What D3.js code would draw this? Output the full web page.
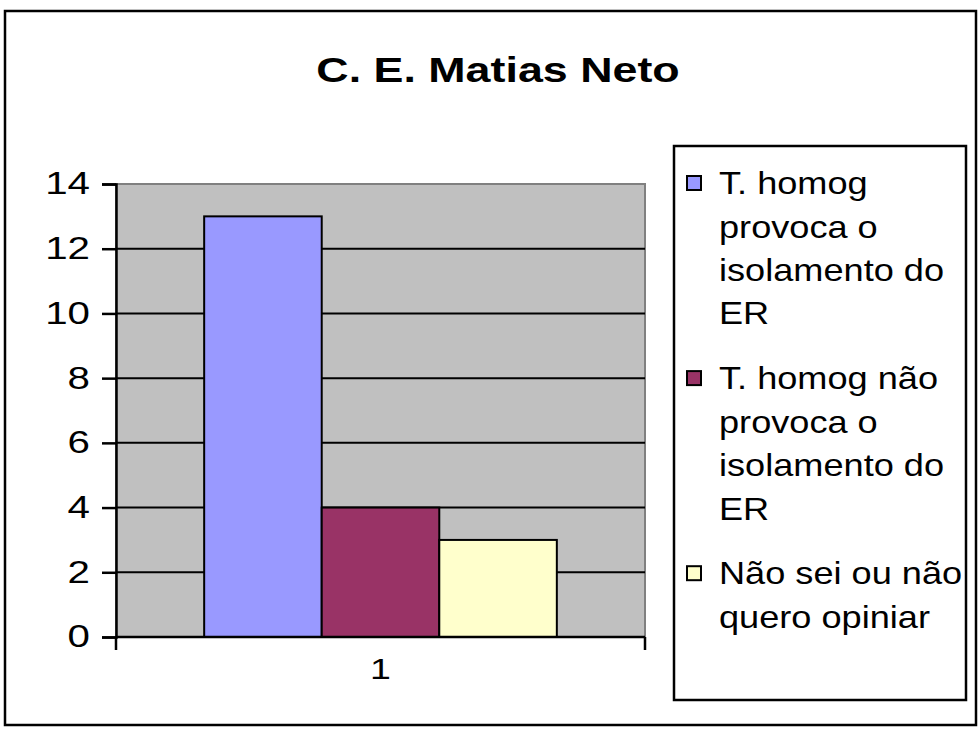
<!DOCTYPE html>
<html>
<head>
<meta charset="utf-8">
<script src="https://cdn.jsdelivr.net/npm/d3@7"></script>
<style>
  body { margin: 0; background: #fff; }
  text { font-family: "Liberation Sans", Arial, sans-serif; fill: #000; }
</style>
</head>
<body>
<div id="chart"></div>
<script>
// chart data
const chartTitle = "C. E. Matias Neto";
const categories = ["1"];
const seriesNames = [
  "T. homog provoca o isolamento do ER",
  "T. homog não provoca o isolamento do ER",
  "Não sei ou não quero opiniar"
];
const seriesValues = [13, 4, 3];
const seriesColors = ["#9999FF", "#993366", "#FFFFCC"];
const yTickValues = [0, 2, 4, 6, 8, 10, 12, 14];
// legend labels as they wrap in the box
const legendLines = [
  ["T. homog", "provoca o", "isolamento do", "ER"],
  ["T. homog não", "provoca o", "isolamento do", "ER"],
  ["Não sei ou não", "quero opiniar"]
];

function renderChart(){
  let total_width = 979, total_height = 742;
  let plot = {left: 116, right: 645, top: 184, bottom: 637};
  let stretch = 1.28; // text in the original is drawn wider than normal

  let svg = d3.select("#chart").append("svg")
    .attr("width", total_width)
    .attr("height", total_height);

  // outer frame
  svg.append("rect")
    .attr("x", 5).attr("y", 11)
    .attr("width", 971).attr("height", 714)
    .attr("fill", "#fff").attr("stroke", "#000").attr("stroke-width", 2.5);

  // title
  svg.append("text")
    .attr("transform", "translate(498,70) scale(" + stretch + ",1)")
    .attr("text-anchor", "middle").attr("dy", "0.35em")
    .attr("font-size", 35).attr("font-weight", "bold")
    .text(chartTitle);

  let y = d3.scaleLinear().domain([0, 14]).range([plot.bottom, plot.top]);
  let x0 = d3.scaleBand().domain(categories).range([plot.left, plot.right]);
  let x1 = d3.scaleBand().domain(seriesNames).range([0, x0.bandwidth()])
    .paddingInner(0).paddingOuter(0.75);

  // plot area
  svg.append("rect")
    .attr("x", plot.left).attr("y", plot.top)
    .attr("width", plot.right - plot.left).attr("height", plot.bottom - plot.top)
    .attr("fill", "#C0C0C0").attr("stroke", "#808080").attr("stroke-width", 2);

  // gridlines
  svg.append("g").selectAll("line")
    .data(yTickValues.filter(d => d > 0 && d < 14))
    .enter().append("line")
    .attr("x1", plot.left).attr("x2", plot.right)
    .attr("y1", d => y(d)).attr("y2", d => y(d))
    .attr("stroke", "#000").attr("stroke-width", 2);

  // bars
  svg.append("g").selectAll("rect")
    .data(seriesNames)
    .enter().append("rect")
    .attr("x", (d) => x0(categories[0]) + x1(d))
    .attr("width", x1.bandwidth())
    .attr("y", (d, i) => y(seriesValues[i]))
    .attr("height", (d, i) => y(0) - y(seriesValues[i]))
    .attr("fill", (d, i) => seriesColors[i])
    .attr("stroke", "#000").attr("stroke-width", 2);

  // y axis
  let yAxis = svg.append("g")
    .attr("transform", "translate(" + plot.left + ",0)")
    .call(d3.axisLeft(y).tickValues(yTickValues).tickSize(14).tickPadding(12));
  yAxis.select(".domain").attr("stroke", "#000").attr("stroke-width", 2.5);
  yAxis.selectAll(".tick line").attr("stroke", "#000").attr("stroke-width", 2.5);
  yAxis.selectAll(".tick text")
    .attr("font-size", 31).attr("font-family", null)
    .each(function(){
      let t = d3.select(this);
      let xx = +t.attr("x");
      t.attr("x", 0).attr("transform", "translate(" + xx + ",0) scale(1.3,1)");
    });

  // x axis, ticks on the band edges
  let xAxisG = svg.append("g")
    .attr("transform", "translate(0," + plot.bottom + ")");
  xAxisG.append("line")
    .attr("x1", plot.left).attr("x2", plot.right)
    .attr("stroke", "#000").attr("stroke-width", 2.5);
  xAxisG.selectAll(".edge")
    .data([x0.range()[0], x0.range()[1]])
    .enter().append("line")
    .attr("x1", d => d).attr("x2", d => d)
    .attr("y1", 0).attr("y2", 13)
    .attr("stroke", "#000").attr("stroke-width", 2.5);
  xAxisG.selectAll(".cat")
    .data(categories)
    .enter().append("text")
    .attr("transform", d => "translate(" + (x0(d) + x0.bandwidth() / 2) + ",31) scale(1.25,1)")
    .attr("text-anchor", "middle").attr("dy", "0.35em")
    .attr("font-size", 30)
    .text(d => d);

  // legend
  let legend = svg.append("g");
  legend.append("rect")
    .attr("x", 674).attr("y", 146)
    .attr("width", 292).attr("height", 554)
    .attr("fill", "#fff").attr("stroke", "#000").attr("stroke-width", 2.5);

  let lineH = 43.4, entryGap = 21.5;
  let ly = 183;
  legendLines.forEach((lines, i) => {
    legend.append("rect")
      .attr("x", 687).attr("y", ly - 7)
      .attr("width", 14).attr("height", 14)
      .attr("fill", seriesColors[i]).attr("stroke", "#000").attr("stroke-width", 2);
    lines.forEach((ln, j) => {
      legend.append("text")
        .attr("transform", "translate(719," + (ly + j * lineH) + ") scale(1.13,1)")
        .attr("dy", "0.35em")
        .attr("font-size", 32)
        .text(ln);
    });
    ly += lines.length * lineH + entryGap;
  });
}

renderChart();
</script>
</body>
</html>
